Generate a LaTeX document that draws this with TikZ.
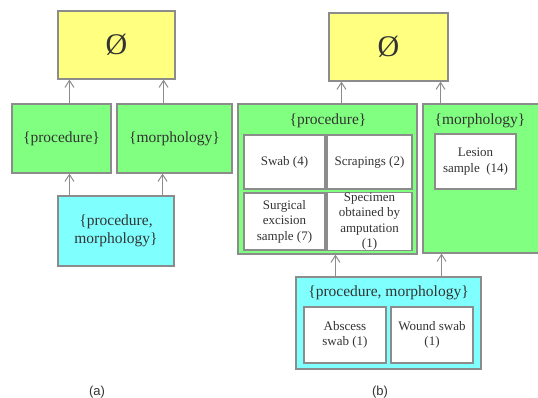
\documentclass[tikz,border=0pt]{standalone}
\usepackage{fontspec}
\setmainfont{Liberation Serif}
\newfontfamily\capfont{Liberation Sans}
\usepackage{xcolor}
\usetikzlibrary{arrows.meta}

\definecolor{setyellow}{HTML}{FFFF80}
\definecolor{setgreen}{HTML}{80FF80}
\definecolor{setcyan}{HTML}{80FFFF}
\definecolor{edgegray}{HTML}{8C8C8C}
\definecolor{inkgray}{HTML}{333333}

\begin{document}
\begin{tikzpicture}[x=1pt, y=-1pt,
    setbox/.style={rectangle, draw=edgegray, line width=1.1pt, inner sep=0pt, text=inkgray, align=center},
    emptybox/.style={setbox, fill=setyellow, font=\fontsize{30}{32}\selectfont},
    greenbox/.style={setbox, fill=setgreen, font=\fontsize{15.5}{17.5}\selectfont},
    cyanbox/.style={setbox, fill=setcyan, font=\fontsize{15.5}{17.5}\selectfont},
    itembox/.style={setbox, fill=white, font=\fontsize{13}{15.5}\selectfont},
    setlabel/.style={text=inkgray, font=\fontsize{15.5}{17.5}\selectfont},
    arr/.style={-{Straight Barb[length=7pt, width=9pt]}, draw=edgegray, line width=1pt}]
    \useasboundingbox (0,0) rectangle (538,398);
    \clip (0,0) rectangle (538,398);

    % (a)
    \node[emptybox, minimum width=117pt, minimum height=68pt] (emptyA) at (116.5,45) {Ø};
    \node[greenbox, minimum width=99pt, minimum height=69pt] (procA) at (61.5,138.5) {\{procedure\}};
    \node[greenbox, minimum width=115pt, minimum height=69pt] (morphA) at (174.5,138.5) {\{morphology\}};
    \node[cyanbox, minimum width=116pt, minimum height=70pt] (bothA) at (116,231) {\{procedure,\\ morphology\}};

    \draw[arr] ([xshift=12pt]emptyA.south west |- procA.north) -- ([xshift=12pt]emptyA.south west);
    \draw[arr] ([xshift=-12pt]emptyA.south east |- morphA.north) -- ([xshift=-12pt]emptyA.south east);
    \draw[arr] ([xshift=12pt]bothA.north west) -- ([xshift=12pt]bothA.north west |- procA.south);
    \draw[arr] ([xshift=-12pt]bothA.north east) -- ([xshift=-12pt]bothA.north east |- morphA.south);

    % (b)
    \node[emptybox, minimum width=119pt, minimum height=68pt] (emptyB) at (388.5,47) {Ø};
    \node[greenbox, minimum width=179pt, minimum height=150pt] (procB) at (327.5,179) {};
    \node[greenbox, minimum width=122pt, minimum height=149pt] (morphB) at (484,178.5) {};
    \node[cyanbox, minimum width=185pt, minimum height=92pt] (bothB) at (388.5,323) {};

    \node[setlabel] (procBtitle) at (328,121) {\{procedure\}};
    \node[setlabel] (morphBtitle) at (480,121) {\{morphology\}};
    \node[setlabel] (bothBtitle) at (388.5,293) {\{procedure, morphology\}};

    \node[itembox, minimum width=81pt, minimum height=54pt] (swab) at (284.5,162) {Swab (4)};
    \node[itembox, minimum width=85pt, minimum height=54pt] (scrapings) at (369.5,162) {Scrapings (2)};
    \node[itembox, minimum width=81pt, minimum height=57pt] (surgical) at (284.5,221.5) {Surgical\\ excision\\ sample (7)};
    \node[itembox, minimum width=85pt, minimum height=57pt] (specimen) at (369.5,221.5) {Specimen\\ obtained by\\ amputation\\ (1)};
    \node[itembox, minimum width=81pt, minimum height=55pt] (lesion) at (475.5,161.5) {Lesion\\ sample\ \ (14)};
    \node[itembox, minimum width=82pt, minimum height=56pt] (abscess) at (345,335) {Abscess\\ swab (1)};
    \node[itembox, minimum width=82pt, minimum height=56pt] (wound) at (432,335) {Wound swab\\ (1)};

    \draw[arr] ([xshift=13pt]emptyB.south west |- procB.north) -- ([xshift=13pt]emptyB.south west);
    \draw[arr] ([xshift=-8pt]emptyB.south east |- morphB.north) -- ([xshift=-8pt]emptyB.south east);
    \draw[arr] ([xshift=40pt]bothB.north west) -- ([xshift=40pt]bothB.north west |- procB.south);
    \draw[arr] ([xshift=-40pt]bothB.north east) -- ([xshift=-40pt]bothB.north east |- morphB.south);

    % captions
    \node[font=\capfont\fontsize{13}{15}\selectfont, text=inkgray] (capA) at (97,392) {(a)};
    \node[font=\capfont\fontsize{13}{15}\selectfont, text=inkgray] (capB) at (380,392) {(b)};
\end{tikzpicture}
\end{document}
